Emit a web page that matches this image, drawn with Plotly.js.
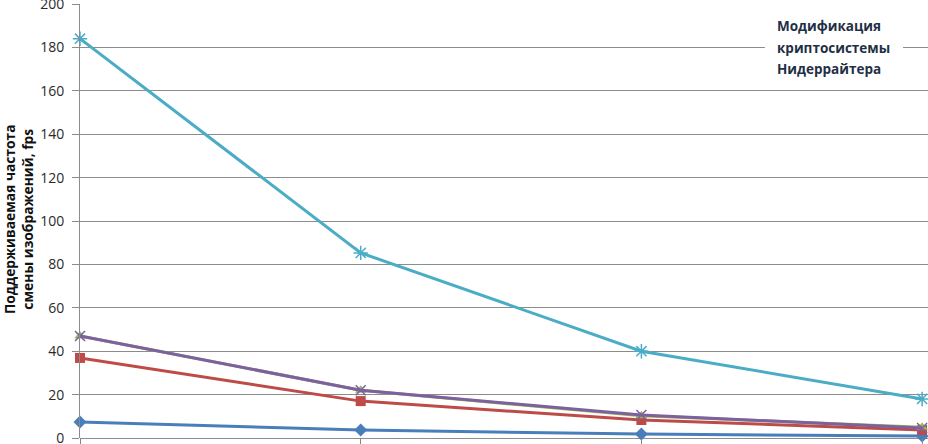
<!DOCTYPE html>
<html><head><meta charset="utf-8">
<script src="https://cdn.plot.ly/plotly-3.0.1.min.js"></script>
<style>html,body{margin:0;padding:0;background:#fff}#chart{width:928px;height:444px}</style>
</head><body><div id="chart"></div>
<script>
const xPos = [0, 1, 2, 3];
const seriesNames = ["Серия 1", "Серия 2", "Серия 3", "Серия 4", "Модификация криптосистемы Нидеррайтера"];
const blueVals = [7.4, 3.7, 1.8, 0.9];
const redVals = [36.9, 17, 8.3, 3.7];
const greenVals = [47, 22, 10.2, 5];
const purpleVals = [47, 22, 10.6, 4.6];
const cyanVals = [184, 85.3, 40, 18];
const yTicks = [0, 20, 40, 60, 80, 100, 120, 140, 160, 180, 200];
const yTitle = "Поддерживаемая частота<br>смены изображений, fps";
const legendLines = ["Модификация", "криптосистемы", "Нидеррайтера"];

function tr(y, name, color, symbol, msize, mline) {
  return {x: xPos, y: y, name: name, type: 'scatter', mode: 'lines+markers',
    line: {color: color, width: 3},
    marker: {symbol: symbol, size: msize, color: color, line: {color: color, width: mline}},
    showlegend: false, cliponaxis: false};
}
const data = [
  tr(blueVals, seriesNames[0], '#4a7ebb', 'diamond', 10, 0),
  tr(redVals, seriesNames[1], '#be4b48', 'square', 10, 0),
  tr(greenVals, seriesNames[2], '#98b954', 'triangle-up', 10, 0),
  tr(purpleVals, seriesNames[3], '#7d60a0', 'x-thin-open', 10, 1.5),
  tr(cyanVals, seriesNames[4], '#4bacc6', 'asterisk-open', 12, 1.5)
];
const legendFont = {size: 13.5, color: '#1f2f45', family: 'Open Sans, sans-serif', weight: 'bold'};
const legendY = [189.9, 179.7, 170];
const annotations = [
  {text: yTitle, xref: 'paper', yref: 'paper', x: 0, y: 0.5, xanchor: 'center', yanchor: 'middle',
    xshift: -62, yshift: 2, textangle: -90, showarrow: false,
    font: {size: 13.8, color: '#111', family: 'Open Sans, sans-serif', weight: 'bold'}}
];
legendLines.forEach((t, i) => annotations.push({text: t, xref: 'x', yref: 'y', x: 2.476, y: legendY[i],
  xanchor: 'left', yanchor: 'middle', showarrow: false, font: legendFont}));

const layout = {
  width: 928, height: 444,
  margin: {l: 80, r: 0, t: 4, b: 6},
  paper_bgcolor: '#fff', plot_bgcolor: '#fff',
  font: {family: 'Open Sans, sans-serif', color: '#222'},
  xaxis: {range: [0, 3.021], showgrid: false, zeroline: false, showline: false,
    tickvals: xPos, ticktext: ['', '', '', ''], ticks: 'outside', ticklen: 6, tickcolor: '#868686', tickwidth: 1},
  yaxis: {range: [0, 200], tickvals: yTicks, showgrid: true, gridcolor: '#8c8c8c', gridwidth: 1,
    zeroline: true, zerolinecolor: '#8c8c8c', showline: true, linecolor: '#8c8c8c', linewidth: 1,
    ticks: 'outside', ticklen: 7, tickcolor: '#8c8c8c', ticklabelstandoff: 5, ticklabeloverflow: 'allow',
    tickfont: {size: 14, color: '#2a2a2a', family: 'Open Sans, sans-serif'}},
  shapes: [{type: 'rect', xref: 'x', yref: 'y', x0: 2.44, x1: 2.932, y0: 164, y1: 197,
    fillcolor: '#fff', line: {width: 0}, layer: 'above'}],
  annotations: annotations
};
Plotly.newPlot('chart', data, layout, {displayModeBar: false, staticPlot: true});
</script></body></html>
